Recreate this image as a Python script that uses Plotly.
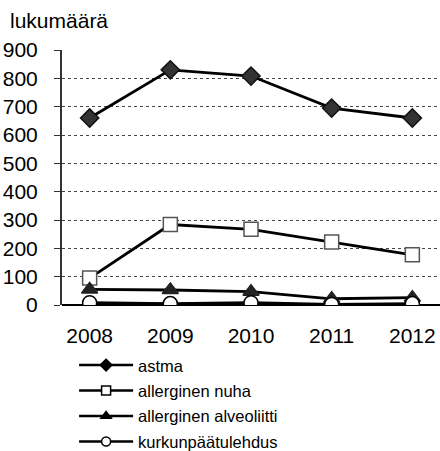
import plotly.graph_objects as go

# --- Data ---
years = ["2008", "2009", "2010", "2011", "2012"]
astma = [660, 830, 808, 695, 660]
nuha = [95, 284, 267, 222, 177]
alveoliitti = [55, 53, 47, 22, 26]
kurkunpaa = [8, 5, 8, 2, 5]

y_ticks = [0, 100, 200, 300, 400, 500, 600, 700, 800, 900]

series = [
    ("astma", astma, "diamond", "#333333", "#111111"),
    ("allerginen nuha", nuha, "square", "white", "#555555"),
    ("allerginen alveoliitti", alveoliitti, "triangle-up", "#222222", "#222222"),
    ("kurkunpäätulehdus", kurkunpaa, "circle", "white", "black"),
]

fig = go.Figure()

# --- Plot lines ---
for name, vals, sym, fill, edge in series:
    fig.add_trace(go.Scatter(
        x=years, y=vals, mode="lines+markers", name=name, showlegend=False,
        line=dict(color="black", width=2.8),
        marker=dict(symbol=sym, size=14, color=fill, line=dict(color=edge, width=1.5)),
    ))

# --- Legend-only entries with smaller markers ---
for name, vals, sym, fill, edge in series:
    fig.add_trace(go.Scatter(
        x=[None], y=[None], mode="lines+markers", name=name, legendgroup=name,
        line=dict(color="black", width=2.5),
        marker=dict(symbol=sym, size=9, color="black" if fill != "white" else "white",
                    line=dict(color="black", width=1.5)),
    ))

fig.update_layout(
    width=440, height=451,
    margin=dict(l=62, r=0, t=50, b=146, autoexpand=False),
    plot_bgcolor="white", paper_bgcolor="white",
    font=dict(family="Liberation Sans, Arial, sans-serif", size=21, color="black"),
    legend=dict(
        x=0.032, y=-0.168, xanchor="left", yanchor="top",
        font=dict(size=16.5), itemwidth=54, tracegroupgap=1,
    ),
    annotations=[dict(
        text="lukumäärä", xref="paper", yref="paper",
        x=-0.142, y=1.117, xanchor="left", yanchor="middle",
        showarrow=False, font=dict(size=21),
    )],
)

fig.update_xaxes(
    showgrid=False, showline=False, ticks="", ticklabelstandoff=16,
)
fig.update_yaxes(
    range=[0, 900], tickvals=y_ticks,
    showgrid=True, gridcolor="#444444", griddash="dot", gridwidth=1,
    zeroline=True, zerolinecolor="black", zerolinewidth=1.5,
    showline=True, linecolor="#333333", linewidth=2,
    ticks="outside", ticklen=6, tickcolor="#333333", ticklabelstandoff=12,
)

# drop the default 8px body margin so the figure sits at the page corner
fig.write_html(
    "out.html",
    config={"displayModeBar": False},
    post_script="document.body.style.margin='0';document.body.style.overflow='hidden';",
)
